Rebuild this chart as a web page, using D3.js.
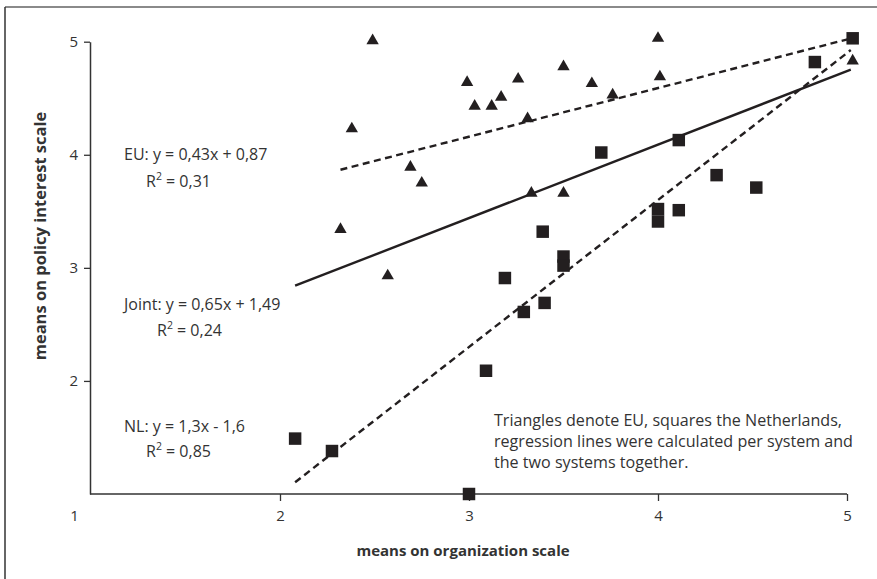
<!DOCTYPE html>
<html>
<head>
<meta charset="utf-8">
<script src="https://cdn.jsdelivr.net/npm/d3@7"></script>
<style>
  html, body { margin: 0; padding: 0; background: #fff; }
  svg { display: block; }
  text { font-family: "Open Sans", "Noto Sans", sans-serif; fill: #333; }
</style>
</head>
<body>
<svg id="chart" width="877" height="579"></svg>
<script>
// EU organisations (triangles): organization-scale mean vs policy-interest mean
const euX = [2.49, 4.00, 2.38, 2.32, 2.57, 2.69, 2.75, 2.99, 3.03, 3.12, 3.17, 3.26, 3.31, 3.33, 3.50, 3.50, 3.65, 3.76, 4.01, 5.03];
const euY = [5.01, 5.03, 4.23, 3.34, 2.93, 3.89, 3.75, 4.64, 4.43, 4.43, 4.51, 4.67, 4.32, 3.66, 4.78, 3.66, 4.63, 4.53, 4.69, 4.83];

// Dutch organisations (squares)
const nlX = [2.08, 2.275, 3.00, 3.09, 3.19, 3.29, 3.40, 3.39, 3.50, 3.50, 3.70, 4.00, 4.00, 4.11, 4.11, 4.31, 4.52, 4.83, 5.03];
const nlY = [1.49, 1.38, 1.00, 2.09, 2.91, 2.61, 2.69, 3.32, 3.10, 3.02, 4.02, 3.52, 3.41, 3.51, 4.13, 3.82, 3.71, 4.82, 5.03];

// Regression lines: EU, joint, NL
const fitNames = ["EU", "Joint", "NL"];
const fitSlopes = [0.43, 0.65, 1.3];
const fitIntercepts = [2.87, 1.49, -1.6];
const fitFrom = [2.32, 2.08, 2.08];
const fitTo = [5.02, 5.02, 5.02];
const fitDashed = [true, false, true];

// Equation labels
const eqText = ["EU: y = 0,43x + 0,87", "Joint: y = 0,65x + 1,49", "NL: y = 1,3x - 1,6"];
const r2Text = ["0,31", "0,24", "0,85"];

const xTicks = [1, 2, 3, 4, 5];
const yTicks = [2, 3, 4, 5];

const noteLines = [
  "Triangles denote EU, squares the Netherlands,",
  "regression lines were calculated per system and",
  "the two systems together."
];

const ink = "#231f20";
const svg = d3.select("#chart");

// outer frame
svg.append("line").attr("x1", 5).attr("x2", 877).attr("y1", 7).attr("y2", 7)
  .attr("stroke", "#8a8a8a").attr("stroke-width", 2);
svg.append("line").attr("x1", 5).attr("x2", 5).attr("y1", 7).attr("y2", 579)
  .attr("stroke", "#333").attr("stroke-width", 1.5);

const x = d3.scaleLinear().domain([1, 5]).range([91, 847]);
const y = d3.scaleLinear().domain([1, 5]).range([494, 41.7]);

// axes
const xAxis = svg.append("g").attr("transform", "translate(0,494)")
  .call(d3.axisBottom(x).tickValues(xTicks).tickFormat(d3.format("d")).tickSize(7).tickSizeOuter(0).tickPadding(9));
const yAxis = svg.append("g").attr("transform", "translate(90,0)")
  .call(d3.axisLeft(y).tickValues(yTicks).tickFormat(d3.format("d")).tickSize(6).tickSizeOuter(0).tickPadding(6));

[xAxis, yAxis].forEach(g => {
  g.select(".domain").attr("stroke", "#333").attr("stroke-width", 1.5);
  g.selectAll(".tick line").attr("stroke", "#333").attr("stroke-width", 1.3);
  g.selectAll(".tick text").attr("font-size", 15).attr("fill", "#333")
    .attr("font-family", "'Open Sans', sans-serif");
});
xAxis.select(".domain").attr("d", `M${x(1) - 1},0H${x(5)}`);
// the origin label sits left of the corner, without a tick mark
xAxis.selectAll(".tick").filter(d => d === 1).each(function () {
  d3.select(this).select("line").remove();
  d3.select(this).select("text").attr("x", -17);
});

// axis titles
svg.append("text").attr("x", 463).attr("y", 556).attr("text-anchor", "middle")
  .attr("font-size", 15).attr("font-weight", "bold").text("means on organization scale");
svg.append("text").attr("transform", "translate(46,236) rotate(-90)").attr("text-anchor", "middle")
  .attr("font-size", 16.5).attr("font-weight", "bold").text("means on policy interest scale");

// regression lines
const lineGen = d3.line().x(d => x(d[0])).y(d => y(d[1]));
fitNames.forEach((n, i) => {
  const pts = [fitFrom[i], fitTo[i]].map(v => [v, fitSlopes[i] * v + fitIntercepts[i]]);
  svg.append("path").attr("d", lineGen(pts)).attr("fill", "none")
    .attr("stroke", ink).attr("stroke-width", 2.4)
    .attr("stroke-dasharray", fitDashed[i] ? "7,4.5" : null);
});

// markers
svg.append("g").selectAll("path").data(nlX.map((v, i) => [v, nlY[i]])).join("path")
  .attr("d", d3.symbol().type(d3.symbolSquare).size(156))
  .attr("transform", d => `translate(${x(d[0])},${y(d[1])})`)
  .attr("fill", ink);
svg.append("g").selectAll("path").data(euX.map((v, i) => [v, euY[i]])).join("path")
  .attr("d", d3.symbol().type(d3.symbolTriangle).size(66))
  .attr("transform", d => `translate(${x(d[0])},${y(d[1])})`)
  .attr("fill", ink);

// equation labels
const eqPos = [[124, 160, 146, 187], [124, 310, 157, 336], [124, 432, 146, 457]];
eqText.forEach((t, i) => {
  const p = eqPos[i];
  svg.append("text").attr("x", p[0]).attr("y", p[1]).attr("font-size", 16).text(t);
  const r = svg.append("text").attr("x", p[2]).attr("y", p[3]).attr("font-size", 16);
  r.append("tspan").text("R");
  r.append("tspan").attr("dy", -7).attr("font-size", 10.5).text("2");
  r.append("tspan").attr("dy", 7).text(" = " + r2Text[i]);
});

// note
svg.append("g").selectAll("text").data(noteLines).join("text")
  .attr("x", 494).attr("y", (d, i) => 426 + i * 21)
  .attr("font-size", 16.1).text(d => d);
</script>
</body>
</html>
